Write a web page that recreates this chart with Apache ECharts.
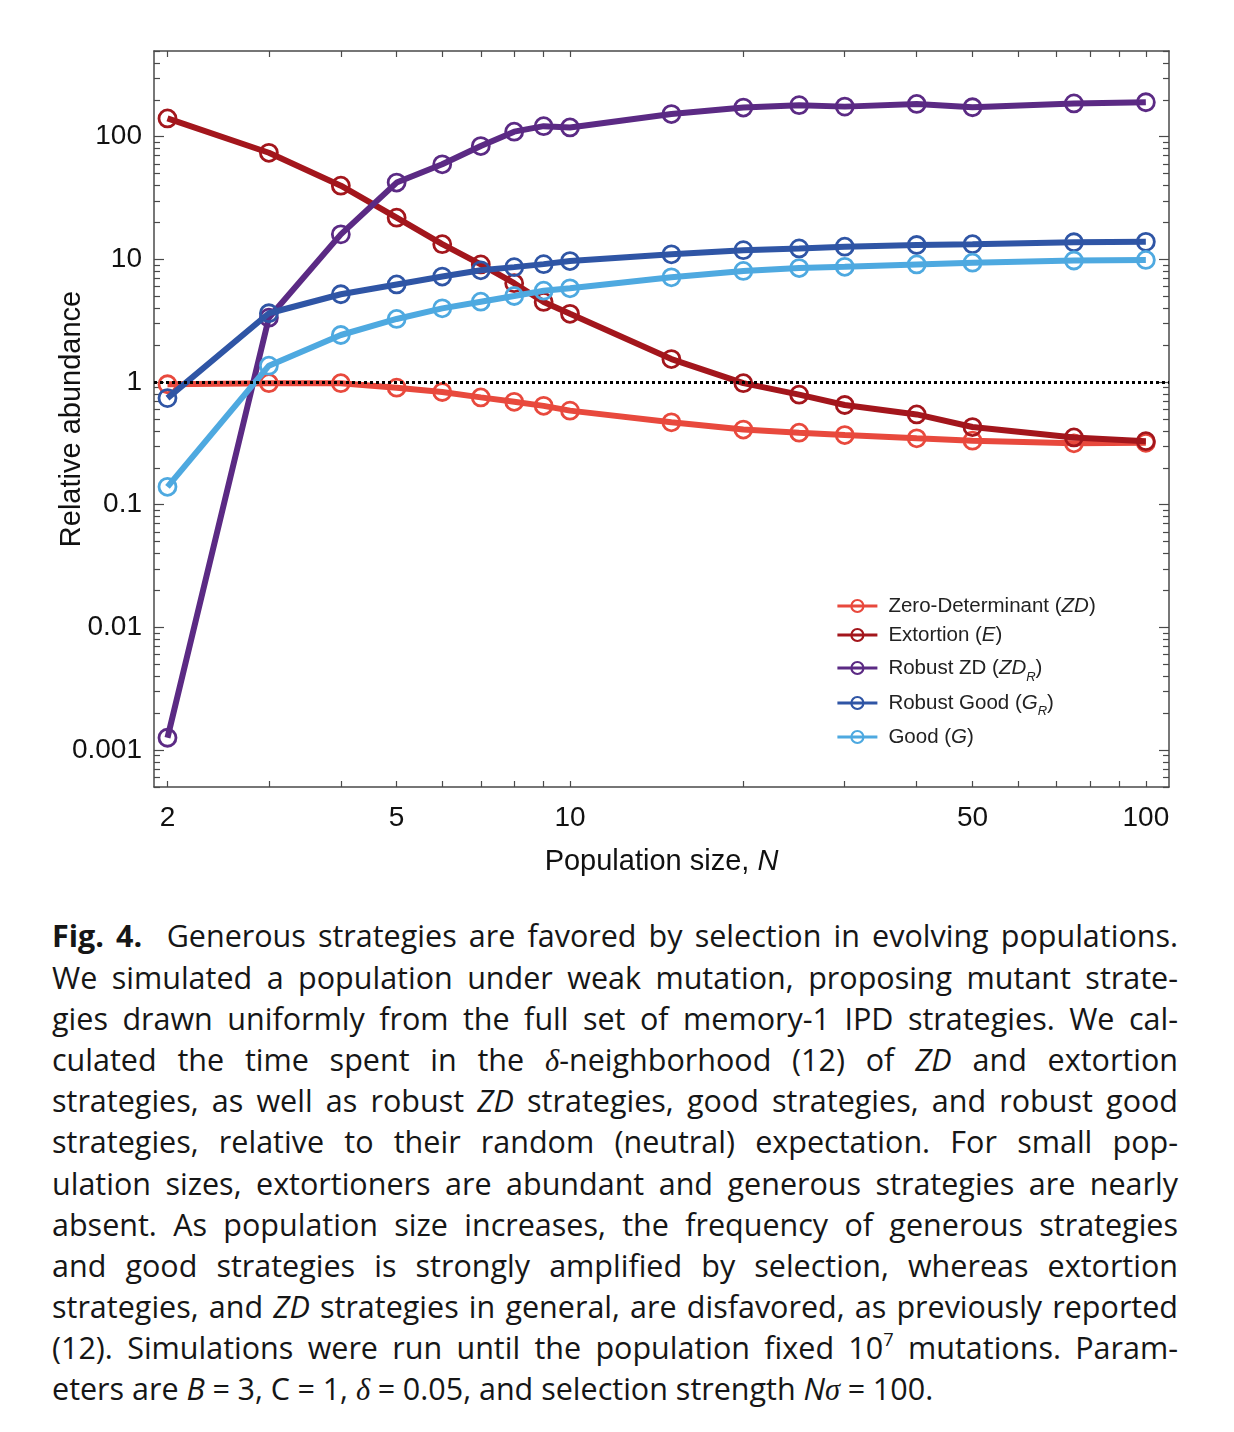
<!DOCTYPE html>
<html>
<head>
<meta charset="utf-8">
<script src="https://cdn.jsdelivr.net/npm/echarts@6/dist/echarts.min.js"></script>
<style>
html,body{margin:0;padding:0;background:#fff;}
#chart{position:absolute;left:0;top:0;width:1234px;height:900px;}
#cap{position:absolute;left:52px;top:915.4px;width:1126px;font-family:'Open Sans',sans-serif;color:#161616;font-size:28px;}
#cap .ln{height:41.2px;line-height:41.2px;white-space:nowrap;}
#cap .t{white-space:nowrap;}
#cap .g{font-family:'Liberation Serif','DejaVu Serif',serif;font-style:italic;}
#cap sup{font-size:0.6em;vertical-align:0.7em;line-height:0;}
</style>
</head>
<body>
<div id="chart"></div>
<div id="cap">
<div class="ln"><span class="t"><b>Fig. 4.</b><span style="display:inline-block;width:0.8em"></span>Generous strategies are favored by selection in evolving populations.</span></div>
<div class="ln"><span class="t">We simulated a population under weak mutation, proposing mutant strate-</span></div>
<div class="ln"><span class="t">gies drawn uniformly from the full set of memory-1 IPD strategies. We cal-</span></div>
<div class="ln"><span class="t">culated the time spent in the <i class="g">δ</i>-neighborhood (12) of <i>ZD</i> and extortion</span></div>
<div class="ln"><span class="t">strategies, as well as robust <i>ZD</i> strategies, good strategies, and robust good</span></div>
<div class="ln"><span class="t">strategies, relative to their random (neutral) expectation. For small pop-</span></div>
<div class="ln"><span class="t">ulation sizes, extortioners are abundant and generous strategies are nearly</span></div>
<div class="ln"><span class="t">absent. As population size increases, the frequency of generous strategies</span></div>
<div class="ln"><span class="t">and good strategies is strongly amplified by selection, whereas extortion</span></div>
<div class="ln"><span class="t">strategies, and <i>ZD</i> strategies in general, are disfavored, as previously reported</span></div>
<div class="ln"><span class="t">(12). Simulations were run until the population fixed 10<sup>7</sup> mutations. Param-</span></div>
<div class="ln"><span class="t">eters are <i>B</i>&#8197;=&#8197;3, C&#8197;=&#8197;1, <i class="g">δ</i>&#8197;=&#8197;0.05, and selection strength <i>N</i><i class="g">σ</i>&#8197;=&#8197;100.</span></div>
</div>
<script>
// ---------------- data ----------------
const popSizes = [2, 3, 4, 5, 6, 7, 8, 9, 10, 15, 20, 25, 30, 40, 50, 75, 100];
const zdValues = [0.96, 0.98, 0.98, 0.90, 0.83, 0.75, 0.69, 0.64, 0.585, 0.47, 0.41, 0.387, 0.37, 0.348, 0.333, 0.317, 0.32];
const extortionValues = [141, 74, 39.9, 21.9, 13.3, 9.1, 6.4, 4.5, 3.6, 1.54, 0.98, 0.79, 0.65, 0.545, 0.43, 0.354, 0.33];
const robustZdValues = [0.00126, 3.35, 16.0, 42.3, 59.6, 84, 110, 122, 119, 153, 173, 181, 176, 185, 174, 187, 191];
const robustGoodValues = [0.74, 3.64, 5.2, 6.25, 7.25, 8.15, 8.65, 9.15, 9.7, 11.0, 11.9, 12.3, 12.7, 13.1, 13.3, 13.8, 13.9];
const goodValues = [0.140, 1.36, 2.42, 3.27, 3.99, 4.52, 5.03, 5.56, 5.81, 7.15, 8.05, 8.5, 8.7, 9.1, 9.4, 9.8, 9.9];

const seriesNames = ['Zero-Determinant (ZD)', 'Extortion (E)', 'Robust ZD (ZDR)', 'Robust Good (GR)', 'Good (G)'];
const legendLabels = ['Zero-Determinant ({i|ZD})', 'Extortion ({i|E})', 'Robust ZD ({i|ZD}{s|R})', 'Robust Good ({i|G}{s|R})', 'Good ({i|G})'];
const seriesColors = ['#E8493D', '#A3161C', '#5B2A84', '#2F55A5', '#4EA9E0'];

const xRange = [1.895, 109.7];
const yRange = [0.0005, 500];
const xTickValues = [2, 3, 4, 5, 6, 7, 8, 9, 10, 20, 30, 40, 50, 60, 70, 80, 90, 100];
const xLabelValues = [2, 5, 10, 50, 100];
const yLabelValues = [0.001, 0.01, 0.1, 1, 10, 100];
const yMinorDecades = [0.0001, 0.001, 0.01, 0.1, 1, 10, 100];
const yMinorMultipliers = [2, 3, 4, 5, 6, 7, 8, 9];
const referenceLevel = 1;

// ---------------- helpers ----------------
const lg = v => Math.log10(v);
const fmt = v => String(+Math.pow(10, v).toPrecision(6));
const FONT = "Liberation Sans, Arial, Helvetica, sans-serif";
const yMinorValues = [];
yMinorDecades.forEach(d => yMinorMultipliers.forEach(m => {
  const v = d * m;
  if (v >= yRange[0] * 0.999 && v <= yRange[1] * 1.001) yMinorValues.push(v);
}));
const legendLH = [24, 26, 32, 30, 30];

const seriesData = [zdValues, extortionValues, robustZdValues, robustGoodValues, goodValues];
const AX = '#4a4a4a';

const series = seriesNames.map((name, k) => ({
  type: 'line',
  name: name,
  xAxisIndex: 0,
  yAxisIndex: 0,
  data: popSizes.map((n, i) => [lg(n), lg(seriesData[k][i])]),
  symbol: 'circle',
  symbolSize: 17,
  showSymbol: true,
  color: seriesColors[k],
  lineStyle: { color: seriesColors[k], width: 6 },
  itemStyle: { color: 'rgba(255,255,255,0)', borderColor: seriesColors[k], borderWidth: 2.8 },
  emphasis: { disabled: true },
  z: 2 + k * 0.1
}));

series.push({
  type: 'line',
  name: '__ref',
  xAxisIndex: 0,
  yAxisIndex: 0,
  data: [],
  z: 10,
  silent: true,
  markLine: {
    silent: true,
    animation: false,
    symbol: ['none', 'none'],
    label: { show: false },
    lineStyle: { color: '#000', width: 3, type: [3, 3], cap: 'butt' },
    emphasis: { disabled: true },
    data: [{ yAxis: lg(referenceLevel) }]
  }
});

const gridRect = { left: 154, top: 51, width: 1015, height: 736 };

const option = {
  animation: false,
  backgroundColor: '#fff',
  textStyle: { fontFamily: FONT },
  grid: [Object.assign({}, gridRect), Object.assign({}, gridRect)],
  xAxis: [
    {
      type: 'value', gridIndex: 0, position: 'bottom',
      min: lg(xRange[0]), max: lg(xRange[1]),
      axisLine: { show: true, onZero: false, lineStyle: { color: AX, width: 1.5 } },
      axisTick: { show: true, inside: true, length: 6, customValues: xTickValues.map(lg), lineStyle: { color: AX, width: 1.2 } },
      axisLabel: { customValues: xLabelValues.map(lg), formatter: fmt, fontSize: 28, color: '#111', margin: 17, fontFamily: FONT },
      splitLine: { show: false },
      name: 'Population size, {i|N}',
      nameLocation: 'middle', nameGap: 60, nameMoveOverlap: false,
      nameTextStyle: { fontSize: 29, color: '#111', fontFamily: FONT, rich: { i: { fontStyle: 'italic', fontSize: 29, color: '#111', fontFamily: FONT } } }
    },
    {
      type: 'value', gridIndex: 0, position: 'top',
      min: lg(xRange[0]), max: lg(xRange[1]),
      axisLine: { show: true, onZero: false, lineStyle: { color: AX, width: 1.5 } },
      axisTick: { show: true, inside: true, length: 6, customValues: xTickValues.map(lg), lineStyle: { color: AX, width: 1.2 } },
      axisLabel: { show: false },
      splitLine: { show: false }
    },
    {
      type: 'value', gridIndex: 1, show: false,
      min: lg(xRange[0]), max: lg(xRange[1])
    }
  ],
  yAxis: [
    {
      type: 'value', gridIndex: 0, position: 'left',
      min: lg(yRange[0]), max: lg(yRange[1]),
      axisLine: { show: true, onZero: false, lineStyle: { color: AX, width: 1.5 } },
      axisTick: { show: true, inside: true, length: 10, customValues: yLabelValues.map(lg), lineStyle: { color: AX, width: 1.2 } },
      axisLabel: { customValues: yLabelValues.map(lg), formatter: fmt, fontSize: 28, color: '#111', margin: 12, fontFamily: FONT },
      splitLine: { show: false },
      name: 'Relative abundance',
      nameLocation: 'middle', nameGap: 68, nameMoveOverlap: false,
      nameTextStyle: { fontSize: 29, color: '#111', fontFamily: FONT }
    },
    {
      type: 'value', gridIndex: 0, position: 'right',
      min: lg(yRange[0]), max: lg(yRange[1]),
      axisLine: { show: true, onZero: false, lineStyle: { color: AX, width: 1.5 } },
      axisTick: { show: true, inside: true, length: 10, customValues: yLabelValues.map(lg), lineStyle: { color: AX, width: 1.2 } },
      axisLabel: { show: false },
      splitLine: { show: false }
    },
    {
      type: 'value', gridIndex: 1, position: 'left',
      min: lg(yRange[0]), max: lg(yRange[1]),
      axisLine: { show: false, onZero: false },
      axisTick: { show: true, inside: true, length: 6, customValues: yMinorValues.map(lg), lineStyle: { color: AX, width: 1.2 } },
      axisLabel: { show: false },
      splitLine: { show: false }
    },
    {
      type: 'value', gridIndex: 1, position: 'right',
      min: lg(yRange[0]), max: lg(yRange[1]),
      axisLine: { show: false, onZero: false },
      axisTick: { show: true, inside: true, length: 6, customValues: yMinorValues.map(lg), lineStyle: { color: AX, width: 1.2 } },
      axisLabel: { show: false },
      splitLine: { show: false }
    }
  ],
  legend: {
    orient: 'vertical',
    left: 836, top: 594, padding: 0,
    itemWidth: 40, itemHeight: 15, itemGap: 4,
    selectedMode: false,
    data: seriesNames.map((n, i) => ({ name: n, textStyle: { lineHeight: legendLH[i] } })),
    formatter: name => legendLabels[seriesNames.indexOf(name)],
    textStyle: {
      fontSize: 20.5, color: '#222', fontFamily: FONT, padding: [0, 0, 0, 6],
      rich: {
        i: { fontStyle: 'italic', fontSize: 20.5, color: '#222', fontFamily: FONT },
        s: { fontStyle: 'italic', fontSize: 13, color: '#222', fontFamily: FONT, lineHeight: 16, verticalAlign: 'bottom' }
      }
    },
    lineStyle: { width: 2.8 },
    itemStyle: { borderWidth: 2.2 }
  },
  series: series
};

const chart = echarts.init(document.getElementById('chart'), null, { renderer: 'canvas' });
chart.setOption(option);

// ---------------- caption justification ----------------
function fitCaption() {
  const cap = document.getElementById('cap');
  const W = 1126;
  const spans = Array.from(cap.querySelectorAll('.ln .t'));
  spans.forEach(s => { s.style.wordSpacing = '0px'; });
  let fs = 30;
  cap.style.fontSize = fs + 'px';
  let widths = spans.map(s => s.getBoundingClientRect().width);
  const mx = Math.max.apply(null, widths.slice(0, -1));
  fs = Math.min(30.5, fs * (W + 36) / mx);
  cap.style.fontSize = fs + 'px';
  widths = spans.map(s => s.getBoundingClientRect().width);
  spans.forEach((s, i) => {
    if (i === spans.length - 1) return;
    const n = (s.textContent.match(/ /g) || []).length;
    if (n) s.style.wordSpacing = ((W - widths[i]) / n) + 'px';
  });
}
if (document.fonts && document.fonts.ready) {
  document.fonts.ready.then(fitCaption);
}
fitCaption();
</script>
</body>
</html>
